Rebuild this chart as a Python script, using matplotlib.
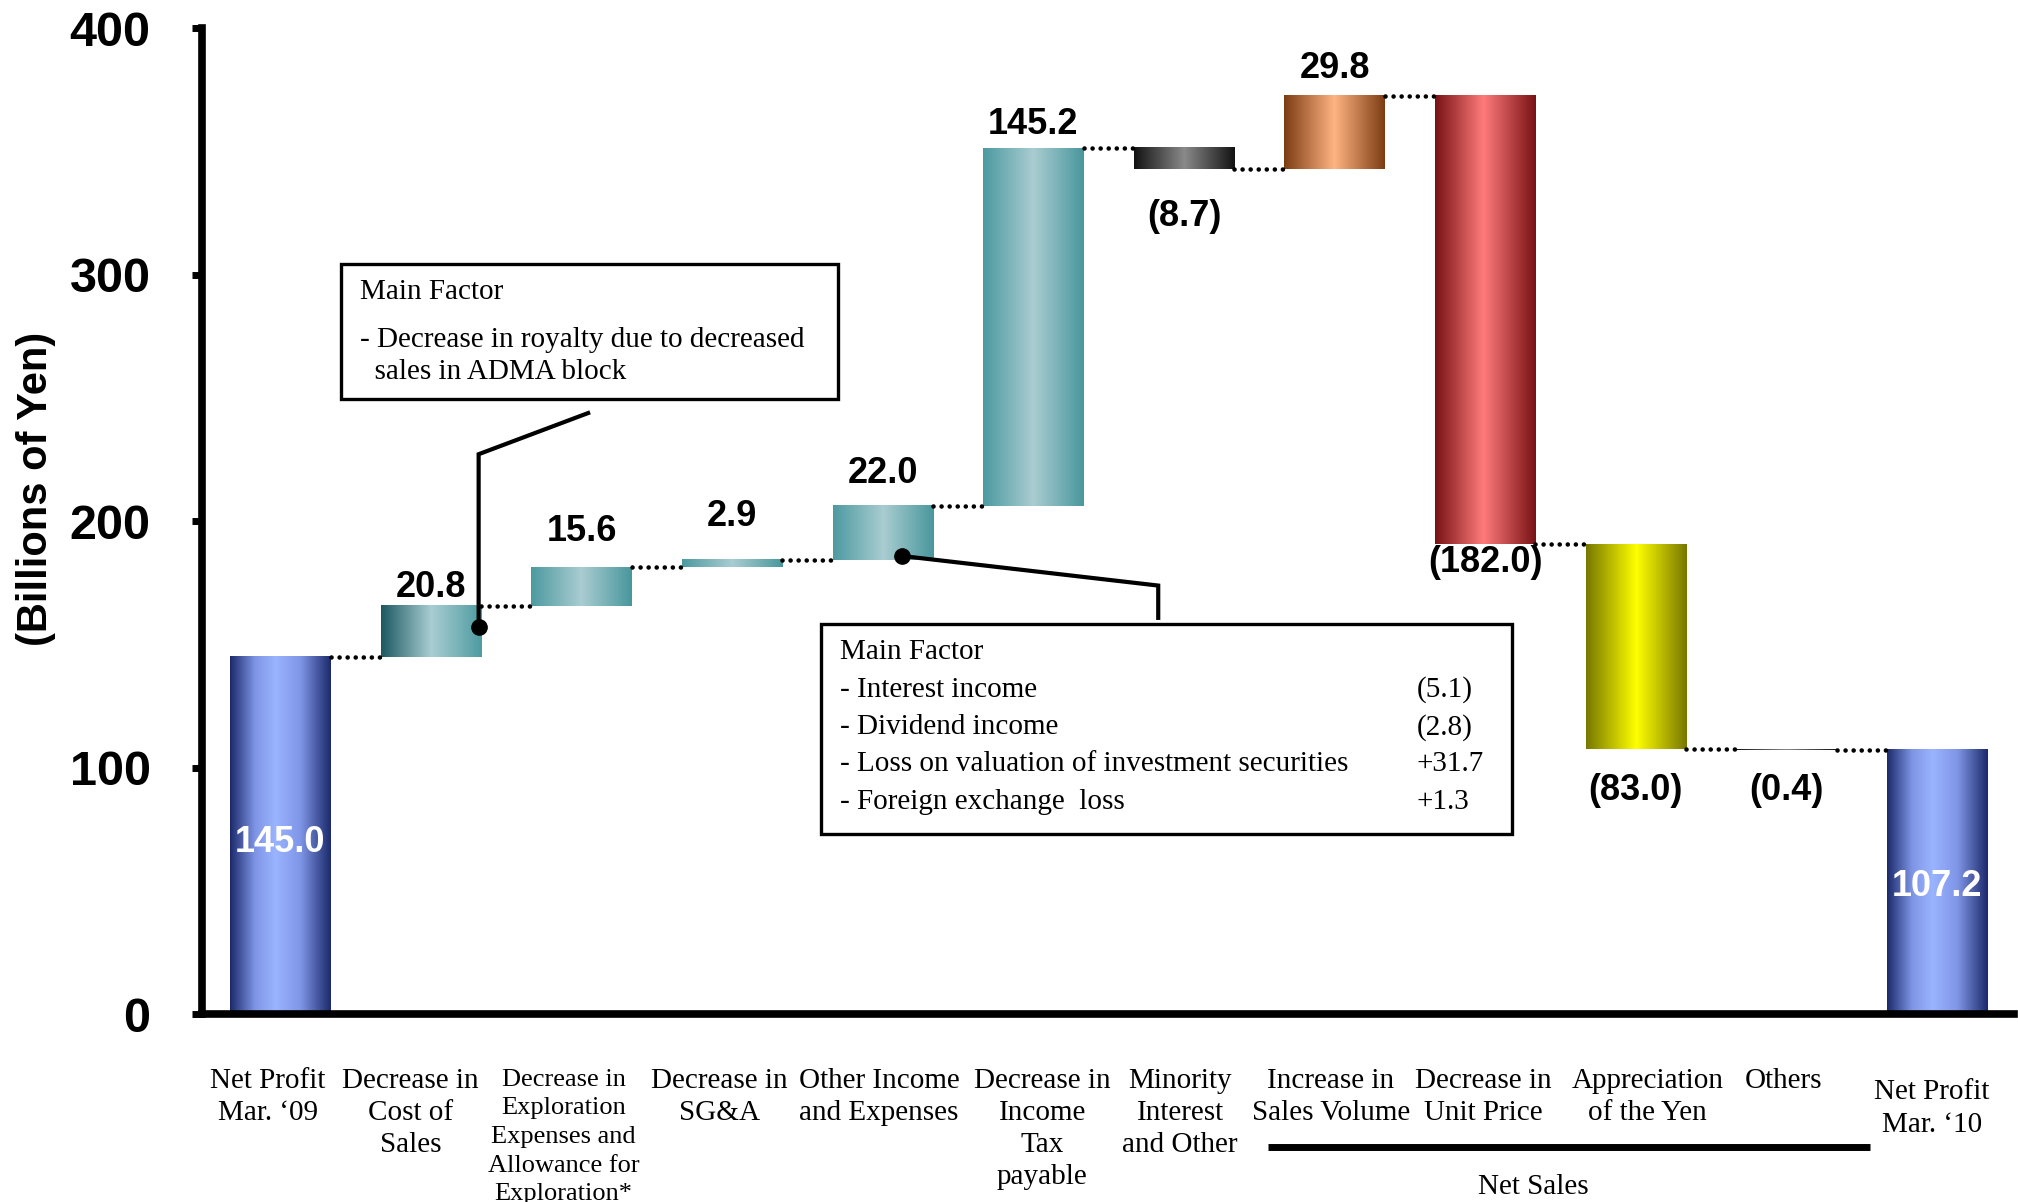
import matplotlib
matplotlib.use("Agg")
import matplotlib.pyplot as plt
import numpy as np
from matplotlib.colors import LinearSegmentedColormap
from matplotlib.patches import Rectangle
from matplotlib.transforms import blended_transform_factory

# ---------------- data ----------------
categories = [
    "Net Profit\nMar. \u201809",
    "Decrease in\nCost of\nSales",
    "Decrease in\nExploration\nExpenses and\nAllowance for\nExploration*",
    "Decrease in\nSG&A",
    "Other Income\nand Expenses",
    "Decrease in\nIncome\nTax\npayable",
    "Minority\nInterest\nand Other",
    "Increase in\nSales Volume",
    "Decrease in\nUnit Price",
    "Appreciation\nof the Yen",
    "Others",
    "Net Profit\nMar. \u201810",
]
start_value = 145.0
changes = [20.8, 15.6, 2.9, 22.0, 145.2, -8.7, 29.8, -182.0, -83.0, -0.4]
end_value = 107.2
y_ticks = [0, 100, 200, 300, 400]
group_label = "Net Sales"
box1_lines = ["Main Factor", "- Decrease in royalty due to decreased", "  sales in ADMA block"]
box2_title = "Main Factor"
box2_items = ["- Interest income", "- Dividend income",
              "- Loss on valuation of investment securities", "- Foreign exchange  loss"]
box2_values = ["(5.1)", "(2.8)", "+31.7", "+1.3"]

# ---------------- derived bar geometry ----------------
n = len(categories)
x = np.arange(n)
levels = start_value + np.cumsum(changes)
prev = np.concatenate([[start_value], levels[:-1]])
bottoms = [0.0] + [min(p, p + c) for p, c in zip(prev, changes)] + [0.0]
heights = [start_value] + [abs(c) for c in changes] + [end_value]
totals = [start_value] + list(levels)  # level after each bar (for connectors)

# ---------------- styles ----------------
grads = {
    "blue":   [(0, "#1c2a6c"), (0.25, "#7f95e6"), (0.45, "#9ab4ff"), (0.7, "#7f95e6"), (1, "#1c2a6c")],
    "teal0":  [(0, "#1d5862"), (0.5, "#a8ced2"), (1, "#4e9ba1")],
    "teal":   [(0, "#4c9aa0"), (0.5, "#a9cdd1"), (1, "#48979d")],
    "gray":   [(0, "#121212"), (0.5, "#8a8a8a"), (1, "#121212")],
    "orange": [(0, "#7c3c12"), (0.5, "#ffb482"), (1, "#7c3c12")],
    "red":    [(0, "#781214"), (0.48, "#ff7b7b"), (1, "#781214")],
    "yellow": [(0, "#777700"), (0.5, "#ffff00"), (1, "#777700")],
}
bar_styles = ["blue", "teal0", "teal", "teal", "teal", "teal", "gray",
              "orange", "red", "yellow", "gray", "blue"]
bar_w = 0.667
label_dx = [-0.085, -0.137, -0.12, -0.085, -0.026, 0.06, -0.026, -0.026, -0.009, 0.077, -0.017, -0.034]
value_dy = [7.3, 14.4, 17.8, 13.0, 9.3, 19.0, 11.2, 7.3, 16.8, 16.4]  # data units from bar edge

plt.rcParams["font.family"] = ["Liberation Sans", "DejaVu Sans"]
fig = plt.figure(figsize=(20.18, 12.02), dpi=100)
ax = fig.add_axes([0.1001, 0.1563, 0.898, 0.8201])

bars = ax.bar(x, heights, bottom=bottoms, width=bar_w, color="none", edgecolor="none", zorder=2)
for b, style in zip(bars, bar_styles):
    cmap = LinearSegmentedColormap.from_list(style, grads[style])
    img = cmap(np.linspace(0, 1, 256))[None, :, :]
    x0, y0 = b.get_x(), b.get_y()
    ax.imshow(img, extent=(x0, x0 + b.get_width(), y0, y0 + b.get_height()),
              aspect="auto", origin="lower", interpolation="bilinear", zorder=2)

# dotted connectors
for i in range(n - 1):
    ax.plot([x[i] + bar_w / 2, x[i + 1] - bar_w / 2], [totals[i], totals[i]],
            color="black", lw=3.3, linestyle=(0, (0.01, 1.75)), dash_capstyle="round", zorder=3)

# value labels
ax.text(x[0], start_value / 2 - 3, f"{start_value:.1f}", color="white", fontsize=26,
        fontweight="bold", ha="center", va="center", zorder=4)
ax.text(x[-1], end_value / 2 - 2, f"{end_value:.1f}", color="white", fontsize=26,
        fontweight="bold", ha="center", va="center", zorder=4)
for i, c in enumerate(changes):
    xi = x[i + 1]
    if c >= 0:
        ty = bottoms[i + 1] + heights[i + 1] + value_dy[i]
        s = f"{c:.1f}"
    else:
        ty = bottoms[i + 1] - value_dy[i]
        s = f"({abs(c):.1f})"
    ax.text(xi, ty, s, fontsize=26, fontweight="bold", ha="center", va="center", zorder=4)

# axes styling
ax.set_xlim(-0.521, 11.513)
ax.set_ylim(0, 400)
ax.set_xticks([])
ax.set_yticks(y_ticks)
ax.set_yticklabels([str(t) for t in y_ticks], fontsize=35, fontweight="bold")
ax.tick_params(axis="y", direction="out", length=7, width=5, pad=30)
for s in ["top", "right"]:
    ax.spines[s].set_visible(False)
ax.spines["left"].set_linewidth(5.5)
ax.spines["bottom"].set_linewidth(5.5)
ax.spines["left"].set_capstyle("projecting")
ax.set_ylabel("(Billions of Yen)", fontsize=30, fontweight="bold", va="center")
ax.yaxis.set_label_coords(-0.0915, 0.533)

# category labels
trans = blended_transform_factory(ax.transData, ax.transAxes)
serif = ["Liberation Serif", "DejaVu Serif"]
for i, lab in enumerate(categories):
    lines = lab.split("\n")
    if len(lines) == 5:
        y0, dy, fs = -0.0665, 0.02905, 19
    elif i == n - 1:
        y0, dy, fs = -0.0795, 0.03264, 21
    else:
        y0, dy, fs = -0.0678, 0.03264, 21
    for k, ln in enumerate(lines):
        ax.text(x[i] + label_dx[i], y0 - k * dy, ln, transform=trans, ha="center", va="center",
                fontsize=fs, family=serif, clip_on=False)

# Net Sales bracket
ax.plot([6.556, 10.556], [-0.1345, -0.1345], transform=trans, color="black", lw=5, clip_on=False,
        solid_capstyle="butt")
ax.text(8.32, -0.1755, group_label, transform=trans, ha="center", va="center", fontsize=21,
        family=serif, clip_on=False)

# annotation box 1
afs = 21
ax.add_patch(Rectangle((0.402, 249.6), 3.298, 54.8, fill=False, edgecolor="black", lw=2.4, zorder=5))
ax.text(0.53, 293.0, box1_lines[0], fontsize=afs, family=serif, va="center", ha="left", zorder=5)
ax.text(0.53, 273.7, box1_lines[1], fontsize=afs, family=serif, va="center", ha="left", zorder=5)
ax.text(0.53, 260.6, box1_lines[2], fontsize=afs, family=serif, va="center", ha="left", zorder=5)
ax.plot([2.043, 1.316, 1.316], [243.9, 227.2, 157.2], color="black", lw=3, zorder=5,
        solid_joinstyle="miter")
ax.plot([1.316], [157.2], "o", color="black", ms=11, zorder=5)

# annotation box 2
ax.add_patch(Rectangle((3.59, 73.1), 4.59, 85.1, fill=False, edgecolor="black", lw=2.4, zorder=5))
ax.text(3.718, 146.8, box2_title, fontsize=afs, family=serif, va="center", ha="left", zorder=5)
for k, (it, v) in enumerate(zip(box2_items, box2_values)):
    yy = 131.6 - k * 15.15
    ax.text(3.718, yy, it, fontsize=afs, family=serif, va="center", ha="left", zorder=5)
    ax.text(7.547, yy, v, fontsize=afs, family=serif, va="center", ha="left", zorder=5)
ax.plot([4.128, 5.829, 5.829], [185.9, 173.9, 160.8], color="black", lw=3, zorder=5,
        solid_joinstyle="miter")
ax.plot([4.128], [185.9], "o", color="black", ms=11, zorder=5)

fig.savefig("out.png", dpi=100)
